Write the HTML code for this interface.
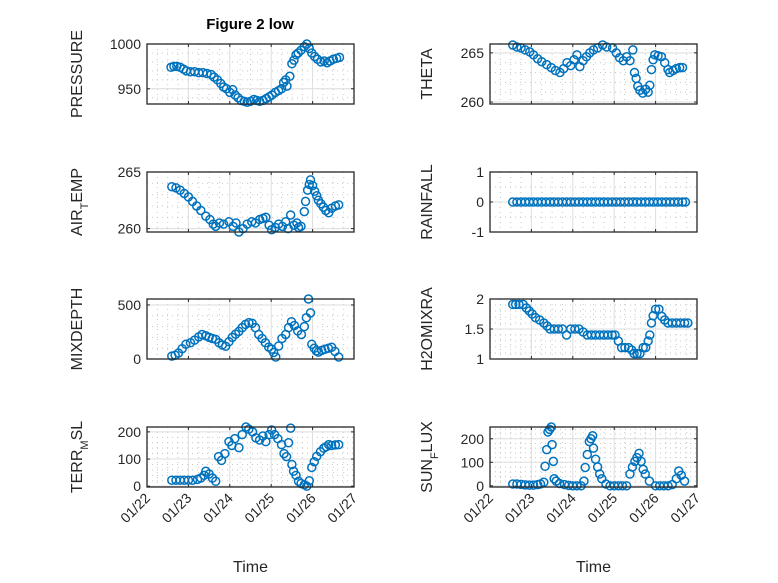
<!DOCTYPE html>
<html><head><meta charset="utf-8"><style>
body{margin:0;background:#fff;}
svg{display:block;font-family:"Liberation Sans",sans-serif;}
</style></head><body>
<svg id="fig" width="778" height="583" viewBox="0 0 778 583" xmlns="http://www.w3.org/2000/svg"></svg>
<script>
const xTickLabels=["01/22","01/23","01/24","01/25","01/26","01/27"];
const pressureT=[0.58,0.65,0.72,0.8,0.88,0.95,1.05,1.15,1.25,1.35,1.45,1.55,1.62,1.7,1.78,1.85,1.92,2.0,2.07,2.13,2.2,2.27,2.35,2.42,2.5,2.58,2.65,2.72,2.8,2.88,2.95,3.02,3.1,3.18,3.25,3.3,3.35,3.38,3.45,3.5,3.55,3.6,3.65,3.72,3.8,3.86,3.92,3.98,4.05,4.12,4.2,4.28,4.35,4.42,4.5,4.58,4.65];
const pressureV=[974,975,975,974,972,970,969,969,968,968,967,966,963,960,956,952,950,946,949,943,940,937,936,935,936,938,937,936,937,939,941,943,946,948,950,957,960,953,964,978,982,988,990,993,997,1000,995,990,986,983,980,981,979,981,983,984,985];
const thetaT=[0.55,0.65,0.75,0.85,0.96,1.05,1.15,1.25,1.37,1.48,1.58,1.69,1.78,1.86,1.95,2.03,2.1,2.17,2.25,2.33,2.41,2.5,2.6,2.72,2.82,2.96,3.05,3.13,3.22,3.3,3.38,3.45,3.49,3.53,3.57,3.62,3.69,3.76,3.82,3.86,3.9,3.94,3.98,4.06,4.14,4.22,4.3,4.34,4.42,4.5,4.58,4.65];
const thetaV=[265.8,265.6,265.5,265.3,265.1,264.8,264.4,264.1,263.8,263.5,263.2,263.0,263.4,264.0,263.7,264.3,264.8,263.6,264.2,264.6,265.0,265.3,265.5,265.8,265.6,265.5,265.0,264.5,264.2,264.6,264.2,265.3,263.0,262.4,261.6,261.2,260.9,261.3,261.0,261.7,263.3,264.3,264.8,264.7,264.6,264.0,263.3,263.0,263.2,263.4,263.5,263.5];
const airT=[0.6,0.7,0.8,0.9,1.0,1.1,1.2,1.3,1.42,1.52,1.6,1.66,1.75,1.85,1.98,2.08,2.15,2.22,2.32,2.42,2.53,2.62,2.72,2.8,2.87,2.95,3.01,3.1,3.18,3.27,3.35,3.41,3.47,3.55,3.62,3.66,3.72,3.8,3.83,3.88,3.92,3.95,4.0,4.05,4.1,4.14,4.2,4.26,4.32,4.39,4.46,4.55,4.63];
const airV=[263.7,263.6,263.4,263.1,262.8,262.4,262.0,261.6,261.1,260.8,260.4,260.2,260.5,260.4,260.6,260.2,260.5,259.7,260.0,260.4,260.6,260.5,260.8,260.9,261.0,260.3,259.9,260.1,260.4,260.2,260.6,260.0,261.2,260.3,260.5,260.1,260.2,261.5,262.4,263.4,263.9,264.3,263.8,263.3,262.9,262.5,262.2,261.9,261.6,261.4,261.8,262.0,262.1];
const rainT=[0.55,0.65,0.75,0.85,0.95,1.05,1.15,1.25,1.35,1.45,1.55,1.65,1.75,1.85,1.95,2.05,2.15,2.25,2.35,2.45,2.55,2.65,2.75,2.85,2.95,3.05,3.15,3.25,3.35,3.45,3.55,3.65,3.75,3.85,3.95,4.05,4.15,4.25,4.35,4.45,4.55,4.65,4.72];
const rainV=[0,0,0,0,0,0,0,0,0,0,0,0,0,0,0,0,0,0,0,0,0,0,0,0,0,0,0,0,0,0,0,0,0,0,0,0,0,0,0,0,0,0,0];
const mixT=[0.6,0.68,0.76,0.85,0.94,1.05,1.15,1.25,1.33,1.42,1.5,1.58,1.66,1.74,1.82,1.9,1.98,2.06,2.14,2.22,2.3,2.38,2.46,2.54,2.62,2.7,2.78,2.86,2.94,3.01,3.06,3.11,3.18,3.26,3.35,3.42,3.49,3.56,3.64,3.73,3.8,3.85,3.9,3.95,3.98,4.04,4.09,4.14,4.22,4.3,4.38,4.46,4.54,4.63];
const mixV=[27,35,55,95,136,150,175,205,227,215,200,190,182,150,130,118,160,200,230,255,290,320,336,330,290,227,190,150,110,91,60,18,120,190,227,290,345,310,260,227,300,382,555,427,136,100,75,64,80,90,100,109,70,18];
const h2oT=[0.55,0.62,0.7,0.8,0.88,0.95,1.02,1.1,1.2,1.3,1.38,1.45,1.55,1.65,1.75,1.85,1.95,2.05,2.15,2.25,2.35,2.45,2.55,2.65,2.75,2.85,2.95,3.02,3.1,3.18,3.26,3.35,3.42,3.48,3.55,3.62,3.7,3.76,3.82,3.86,3.9,3.94,4.0,4.08,4.15,4.22,4.3,4.4,4.5,4.6,4.7,4.78];
const h2oV=[1.91,1.91,1.91,1.91,1.85,1.8,1.75,1.69,1.65,1.6,1.55,1.5,1.5,1.5,1.5,1.4,1.5,1.5,1.5,1.45,1.4,1.4,1.4,1.4,1.4,1.4,1.4,1.4,1.3,1.19,1.19,1.19,1.15,1.09,1.09,1.09,1.19,1.19,1.3,1.4,1.6,1.72,1.83,1.83,1.71,1.65,1.6,1.6,1.6,1.6,1.6,1.6];
const terrT=[0.6,0.7,0.8,0.9,1.0,1.1,1.22,1.3,1.38,1.42,1.5,1.58,1.66,1.73,1.8,1.88,1.98,2.05,2.12,2.22,2.3,2.39,2.46,2.55,2.63,2.72,2.8,2.87,2.95,3.01,3.08,3.16,3.25,3.31,3.37,3.42,3.47,3.5,3.54,3.6,3.66,3.72,3.8,3.86,3.92,3.98,4.04,4.1,4.19,4.27,4.33,4.39,4.46,4.55,4.63];
const terrV=[22,22,22,22,22,22,25,30,40,55,45,30,18,109,95,120,164,150,175,142,190,218,210,200,178,170,185,164,190,207,190,175,153,120,109,160,214,80,55,40,18,10,5,0,20,69,90,110,127,140,145,153,150,152,153];
const sunT=[0.55,0.65,0.75,0.85,0.95,1.05,1.15,1.22,1.3,1.33,1.37,1.4,1.44,1.48,1.5,1.53,1.55,1.6,1.68,1.8,1.9,2.0,2.1,2.2,2.27,2.3,2.35,2.4,2.44,2.48,2.5,2.55,2.6,2.65,2.7,2.8,2.9,3.0,3.1,3.2,3.3,3.38,3.44,3.5,3.55,3.6,3.65,3.7,3.75,3.85,4.0,4.1,4.2,4.3,4.4,4.5,4.56,4.62,4.7];
const sunV=[8,8,6,4,3,3,5,8,15,83,154,229,240,250,175,104,30,20,10,5,2,0,0,0,20,78,133,188,200,213,160,113,80,50,30,8,0,0,0,0,0,50,80,104,120,138,104,70,50,20,0,0,0,0,5,30,63,45,20];

const svg=document.getElementById('fig');
const NS='http://www.w3.org/2000/svg';
function mk(tag,attrs,parent){const e=document.createElementNS(NS,tag);for(const k in attrs)e.setAttribute(k,attrs[k]);(parent||svg).appendChild(e);return e;}

const colX=[147,490], W=207, H=60;
const rowY=[44,172,299,427];
const panels=[
 {name:'pressure',label:'PRESSURE',col:0,row:0,y0:933,y1:1000,ticks:[950,1000],minor:10,t:pressureT,v:pressureV},
 {name:'theta',label:'THETA',col:1,row:0,y0:259.8,y1:265.9,ticks:[260,265],minor:1,t:thetaT,v:thetaV},
 {name:'air-temp',label:'AIR<tspan baseline-shift="sub" font-size="11">T</tspan>EMP',col:0,row:1,y0:259.7,y1:265,ticks:[260,265],minor:1,t:airT,v:airV},
 {name:'rainfall',label:'RAINFALL',col:1,row:1,y0:-1,y1:1,ticks:[-1,0,1],minor:0.5,t:rainT,v:rainV},
 {name:'mixdepth',label:'MIXDEPTH',col:0,row:2,y0:0,y1:555,ticks:[0,500],minor:100,t:mixT,v:mixV},
 {name:'h2omixra',label:'H2OMIXRA',col:1,row:2,y0:1,y1:2,ticks:[1,1.5,2],minor:0.1,t:h2oT,v:h2oV},
 {name:'terr-msl',label:'TERR<tspan baseline-shift="sub" font-size="11">M</tspan>SL',col:0,row:3,y0:-3,y1:218,ticks:[0,100,200],minor:20,t:terrT,v:terrV},
 {name:'sun-flux',label:'SUN<tspan baseline-shift="sub" font-size="11">F</tspan>LUX',col:1,row:3,y0:-5,y1:250,ticks:[0,100,200],minor:20,t:sunT,v:sunV}
];

mk('rect',{x:0,y:0,width:778,height:583,fill:'#fff'});
const title=mk('text',{x:250,y:29,'text-anchor':'middle','font-size':15,'font-weight':'bold',fill:'#000'});
title.textContent='Figure 2 low';



panels.forEach(p=>{
  const L=colX[p.col], T=rowY[p.row];
  const sx=t=>L+t/5*W;
  const sy=v=>T+H-(v-p.y0)/(p.y1-p.y0)*H;
  const g=mk('g',{});
  
  
  for(let d=0;d<5;d+=0.25){if(Math.abs(d-Math.round(d))<1e-6)continue;const x=sx(d);mk('line',{x1:x,x2:x,y1:T,y2:T+H,stroke:'#c8c8c8','stroke-width':1,'stroke-dasharray':'1 4'},g);}
  const ms=Math.ceil(p.y0/p.minor)*p.minor;
  for(let v=ms;v<=p.y1+1e-9;v+=p.minor){const y=sy(v);mk('line',{x1:L,x2:L+W,y1:y,y2:y,stroke:'#c8c8c8','stroke-width':1,'stroke-dasharray':'1 4'},g);}
  for(let d=1;d<5;d++){const x=sx(d);mk('line',{x1:x,x2:x,y1:T,y2:T+H,stroke:'#dedede','stroke-width':1},g);}
  p.ticks.forEach(v=>{const y=sy(v);mk('line',{x1:L,x2:L+W,y1:y,y2:y,stroke:'#dedede','stroke-width':1},g);});
  for(let d=0;d<=5;d++){const x=sx(d);mk('line',{x1:x,x2:x,y1:T+H,y2:T+H-3,stroke:'#262626'},g);mk('line',{x1:x,x2:x,y1:T,y2:T+3,stroke:'#262626'},g);}
  p.ticks.forEach(v=>{const y=sy(v);mk('line',{x1:L,x2:L+3,y1:y,y2:y,stroke:'#262626'},g);mk('line',{x1:L+W-3,x2:L+W,y1:y,y2:y,stroke:'#262626'},g);
    const tl=mk('text',{x:L-6,y:y+5,'text-anchor':'end','font-size':14,fill:'#262626'},g);tl.textContent=String(v);
    
    
  });
  const sg=mk('g',{fill:'none',stroke:'#0072BD','stroke-width':1.5},g);
  
  
  p.t.forEach((t,i)=>{const c=mk('circle',{cx:sx(t),cy:sy(p.v[i]),r:4},sg);
    
    
  });
  mk('rect',{x:L,y:T,width:W,height:H,fill:'none',stroke:'#262626','stroke-width':1.3},g);
  const lx=p.col===0?82:432, ly=T+H/2;
  const yl=mk('text',{x:lx,y:ly,'text-anchor':'middle','font-size':16,fill:'#262626',transform:`rotate(-90 ${lx} ${ly})`},g);
  yl.innerHTML=p.label;
  
  
  if(p.row===3){
    xTickLabels.forEach((s,d)=>{const x=sx(d)+4,y=T+H+12;
      const xl=mk('text',{x:x,y:y,'text-anchor':'end','font-size':14,fill:'#262626',transform:`rotate(-45 ${x} ${y})`},g);
      xl.textContent=s;
      
      
    });
    const xt=mk('text',{x:L+W/2,y:572,'text-anchor':'middle','font-size':16,fill:'#262626'},g);
    xt.textContent='Time';
    
    
  }
});
</script>
</body></html>
